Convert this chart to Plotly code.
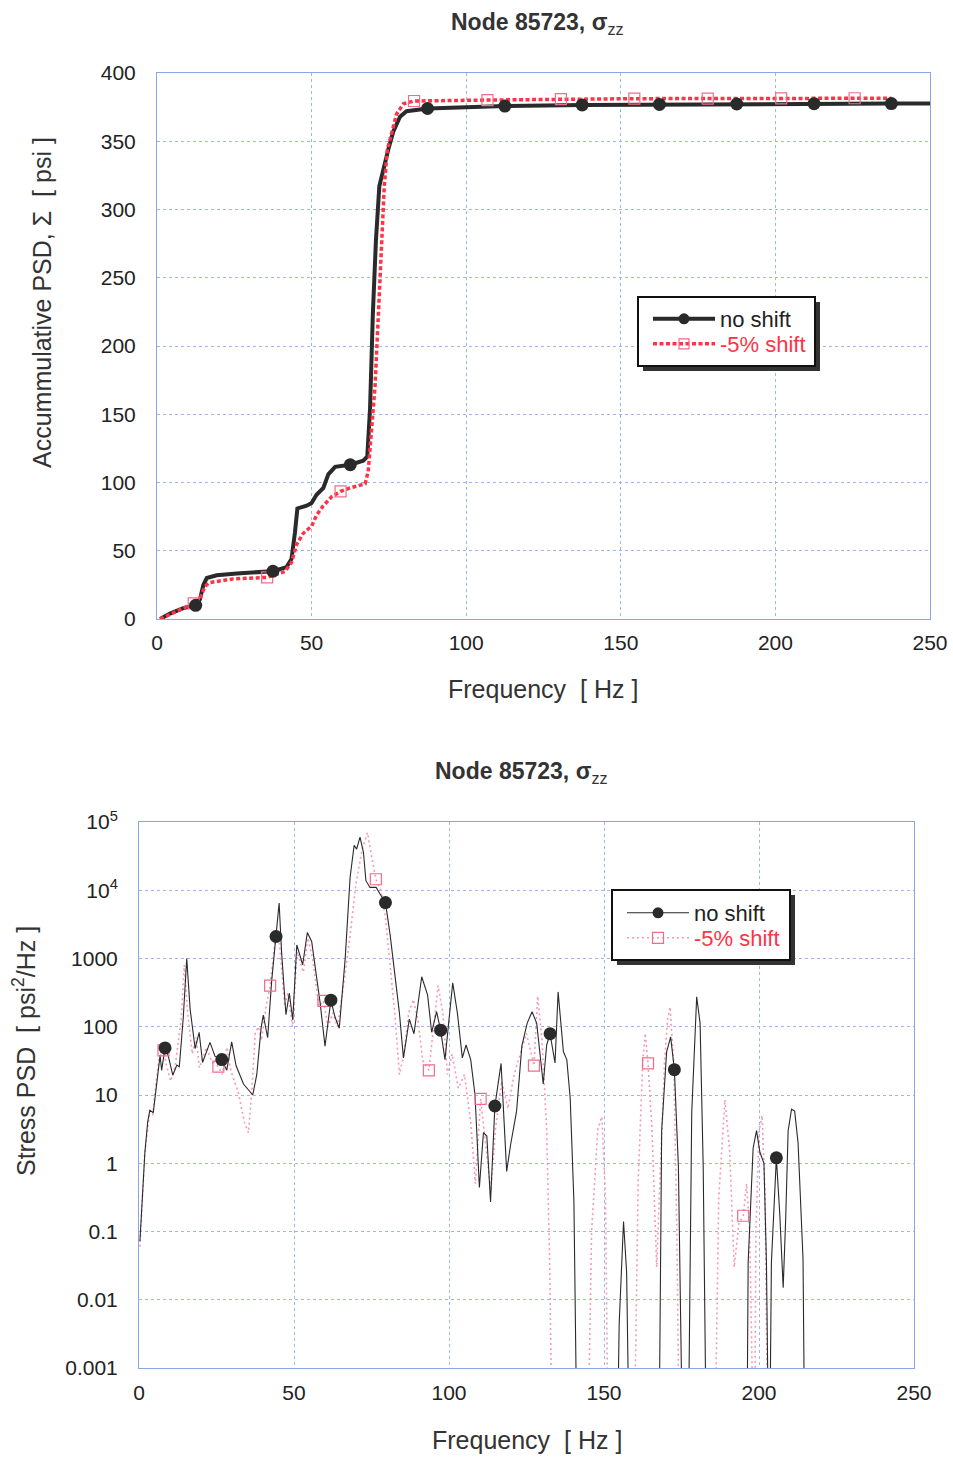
import plotly.graph_objects as go

# ---------------- data: top chart (accumulative PSD) ----------------
top_f_noshift = [1.0, 4.2, 8.5, 12.5, 13.9, 15.0, 16.1, 19.3, 25.8, 37.5, 41.9, 43.5, 44.6, 45.4,
                 48.4, 50.0, 51.6, 53.8, 55.4, 57.6, 62.5, 66.7, 68.0, 68.9, 69.8, 70.8, 71.9,
                 73.2, 74.8, 76.4, 78.6, 80.7, 84.0, 87.5, 100.0, 112.5, 137.5, 162.5, 187.5,
                 212.5, 237.5, 250.0]
top_v_noshift = [0, 4, 8, 10, 14.5, 25, 30, 32, 33.4, 35, 38, 44, 63, 81,
                 83, 85, 91, 96, 106, 111.5, 113, 116, 119, 154, 223, 277, 317,
                 330, 344, 357, 368, 372, 373.2, 374, 375, 375.8, 376.6, 377, 377.3,
                 377.5, 377.6, 377.6]
top_f_shift = [1.0, 4.2, 8.5, 11.875, 13.9, 15.5, 17.1, 24.7, 35.625, 41.4, 43.5, 45.2, 47.3,
               50.0, 51.6, 53.8, 56.5, 59.375, 62.4, 67.3, 68.3, 69.4, 70.5, 71.6, 72.7, 73.5,
               74.5, 75.9, 77.5, 79.7, 83.125, 106.875, 130.625, 154.375, 178.125, 201.875,
               225.625, 237.5]
top_v_shift = [0, 3.5, 8, 11.5, 15, 24, 26.7, 29.4, 30.5, 34.8, 41.4, 54.8, 62.8,
               68, 76, 83, 89.6, 93.5, 96, 99, 108, 143, 170, 223, 277, 317,
               344, 357, 370, 377.5, 379.5, 380.2, 380.8, 381.2, 381.3, 381.4,
               381.5, 381.5]
top_mk_f_noshift = [12.5, 37.5, 62.5, 87.5, 112.5, 137.5, 162.5, 187.5, 212.5, 237.5]
top_mk_v_noshift = [10, 35, 113, 374, 375.8, 376.6, 377, 377.3, 377.5, 377.6]
top_mk_f_shift = [11.875, 35.625, 59.375, 83.125, 106.875, 130.625, 154.375, 178.125, 201.875, 225.625]
top_mk_v_shift = [11.5, 30.5, 93.5, 379.5, 380.2, 380.8, 381.2, 381.3, 381.4, 381.5]

# ---------------- data: bottom chart (stress PSD) ----------------
psd_f_noshift = [0.3, 1.0, 1.9, 2.8, 3.5, 4.6, 5.7, 6.8, 7.3, 8.4, 9.4, 10.9, 12.2, 13.0, 14.3,
                 15.4, 16.5, 18.1, 19.4, 20.5, 22.9, 24.5, 26.7, 28.3, 29.9, 31.3, 33.7, 36.7,
                 38.0, 39.4, 40.1, 41.5, 42.8, 44.2, 45.2, 46.0, 47.4, 48.5, 49.6, 50.9, 52.8,
                 54.3, 55.7, 58.4, 60.0, 61.9, 63.2, 64.6, 66.5, 68.1, 69.4, 70.2, 71.3, 72.4,
                 73.2, 74.5, 76.5, 77.7, 79.5, 81.0, 82.6, 84.0, 85.3, 87.2, 88.7, 91.2, 93.1,
                 94.4, 96.0, 97.3, 98.7, 101.2, 102.7, 104.3, 105.5, 107.0, 108.4, 109.8, 111.1,
                 112.2, 113.4, 114.8, 116.8, 118.6, 119.9, 121.8, 123.5, 125.2, 126.8, 128.3,
                 130.4, 131.5, 132.6, 134.2, 135.2, 136.9, 138.0, 139.1, 140.3, 141.5, 154.0,
                 154.9, 156.3, 157.3, 158.4, 167.6, 168.6, 170.2, 171.5, 172.7, 174.0, 175.6,
                 177.0, 178.3, 179.9, 181.0, 182.0, 183.2, 196.0, 196.5, 198.1, 199.2, 200.3,
                 201.6, 202.4, 203.3, 204.0, 204.8, 205.6, 206.7, 207.8, 208.6, 209.4, 210.5,
                 211.5, 212.6, 214.2, 214.9, 250.0]
psd_v_noshift = [0.072, 0.3, 1.45, 4.0, 6.0, 5.5, 16, 38, 23, 49, 38, 19.5, 27.5, 26, 140,
                 1000, 180, 48, 83, 30, 59, 37, 33, 23, 60, 27, 14.5, 10,
                 20, 98, 148, 69, 470, 2100, 6500, 1230, 150, 310, 126, 1580, 810,
                 2400, 1780, 230, 52, 245, 140, 95, 980, 15500, 45700, 40000, 60000, 36000,
                 13800, 11000, 11000, 8900, 6600, 2240, 540, 160, 35, 129, 79, 540, 290,
                 83, 166, 89, 33, 440, 160, 35, 54, 33, 10, 0.44, 2.8,
                 2.5, 0.27, 6.9, 29, 0.76, 1.9, 5.8, 52, 112, 166, 112,
                 14.5, 54, 79, 29.5, 324, 43, 33, 8.9, 0.27, 1e-5, 1e-5,
                 0.0045, 0.14, 0.025, 1e-5, 1e-5, 3.0, 43, 71, 23.5, 0.9, 1e-5,
                 1e-5, 5.5, 275, 112, 0.9, 1e-5, 1e-5, 0.035, 1.66, 3.0, 1.45,
                 1.0, 0.035, 1e-5, 0.035, 0.27, 1.2, 0.18, 0.015, 0.15, 3.0, 6.2,
                 5.8, 2.0, 0.04, 1e-5, 1e-5]
psd_f_shift = [0.3, 1.8, 3.3, 4.4, 5.4, 6.5, 7.9, 8.8, 10.2, 11.6, 13.6, 14.6, 15.7, 17.2, 18.4,
               19.5, 21.8, 23.3, 25.6, 26.9, 28.4, 29.7, 32.0, 34.0, 35.3, 36.3, 37.5, 38.5,
               39.5, 41.0, 42.3, 44.0, 45.0, 46.0, 47.0, 48.0, 49.5, 51.0, 53.0, 54.5, 56.0,
               58.0, 59.5, 61.0, 62.5, 64.0, 66.0, 68.0, 70.0, 72.0, 73.7, 75.0, 76.4, 78.0,
               79.5, 81.0, 82.5, 84.0, 85.5, 87.0, 88.5, 90.0, 91.5, 93.5, 95.0, 96.5, 98.0,
               99.5, 101.0, 103.0, 105.0, 107.0, 108.5, 110.2, 112.0, 113.5, 115.0, 117.0,
               119.0, 121.0, 123.0, 125.0, 127.4, 128.6, 130.0, 131.5, 132.5, 133.5, 144.5,
               146.0, 148.0, 149.3, 150.5, 151.5, 159.5, 161.0, 162.5, 163.3, 164.2, 165.5,
               167.0, 168.0, 169.5, 170.5, 171.3, 172.5, 173.5, 174.5, 185.5, 187.0, 189.0,
               190.5, 192.0, 193.5, 194.9, 196.0, 197.0, 198.5, 199.0, 200.0, 201.0, 202.0,
               203.0, 237.5]
psd_v_shift = [0.06, 1.3, 5.0, 5.0, 14, 35, 45, 28, 16, 25, 126, 800, 160, 40, 70,
               25, 50, 32, 26, 20, 50, 22, 11, 4, 2.8, 10, 80, 100,
               63, 200, 400, 2000, 2500, 630, 200, 316, 100, 1260, 630, 2000, 1000,
               200, 240, 100, 160, 100, 400, 2000, 12600, 40000, 70000, 32000, 14500, 10000,
               4000, 800, 160, 20, 40, 160, 250, 126, 32, 23, 100, 400, 160,
               20, 40, 12.6, 20, 4, 0.5, 8.8, 1.6, 0.4, 3.2, 16,
               6.3, 20, 40, 80, 27, 280, 63, 3.2, 0.03, 1e-5, 1e-5,
               0.1, 3.2, 4.8, 0.3, 1e-5, 1e-5, 0.5, 30, 80, 29, 3,
               0.03, 0.5, 30, 126, 195, 30, 0.1, 1e-5, 1e-5, 0.3, 8.5,
               1.6, 0.03, 0.13, 0.17, 0.5, 0.1, 1e-5, 0.1, 3, 5, 0.3,
               1e-5, 1e-5]
psd_mk_f_noshift = [8.4, 26.7, 44.2, 61.9, 79.5, 97.3, 114.8, 132.6, 172.7, 205.6]
psd_mk_v_noshift = [49, 33, 2100, 245, 6600, 89, 6.9, 79, 23.5, 1.2]
psd_mk_f_shift = [7.9, 25.6, 42.3, 59.5, 76.4, 93.5, 110.2, 127.4, 164.2, 194.9]
psd_mk_v_shift = [45, 26, 400, 240, 14500, 23, 8.8, 27, 29, 0.17]

psd_tickvals = [1e-3, 1e-2, 1e-1, 1, 10, 100, 1000, 1e4, 1e5]
psd_ticktext = ["0.001", "0.01", "0.1", "1", "10", "100", "1000", "10<sup>4</sup>", "10<sup>5</sup>"]

names = ["no shift", "-5% shift"]

# ---------------- styling ----------------
W, H = 953, 1457
FONT = "Liberation Sans, Arial, sans-serif"
BLACK = "#2a2a2a"
RED = "#ff3347"
PINK = "#f59ab4"
PINKMK = "#f06c8c"
GRID = "#9db6ea"
AXLINE = "#86a6e6"


def px_x(p):
    return p / W


def px_y(p):
    return 1 - p / H


fig = go.Figure()

# top chart
fig.add_trace(go.Scatter(x=top_f_noshift, y=top_v_noshift, mode="lines", line=dict(color=BLACK, width=4),
                         showlegend=False, xaxis="x", yaxis="y"))
fig.add_trace(go.Scatter(x=top_f_shift, y=top_v_shift, mode="lines",
                         line=dict(color=RED, width=3.5, dash="4px,2.5px"),
                         showlegend=False, xaxis="x", yaxis="y"))
fig.add_trace(go.Scatter(x=top_mk_f_shift, y=top_mk_v_shift, mode="markers",
                         marker=dict(symbol="square-open", size=11, color=PINKMK, line=dict(width=1.2)),
                         showlegend=False, xaxis="x", yaxis="y"))
fig.add_trace(go.Scatter(x=top_mk_f_noshift, y=top_mk_v_noshift, mode="markers",
                         marker=dict(symbol="circle", size=13, color=BLACK),
                         showlegend=False, xaxis="x", yaxis="y"))
fig.add_trace(go.Scatter(x=[None], y=[None], mode="lines+markers", name=names[0],
                         line=dict(color=BLACK, width=4), marker=dict(symbol="circle", size=11, color=BLACK),
                         legend="legend", xaxis="x", yaxis="y"))
fig.add_trace(go.Scatter(x=[None], y=[None], mode="lines+markers",
                         name="<span style='color:%s'>%s</span>" % (RED, names[1]),
                         line=dict(color=RED, width=3.5, dash="4px,2.5px"),
                         marker=dict(symbol="square-open", size=10, color=PINKMK, line=dict(width=1.2)),
                         legend="legend3", xaxis="x", yaxis="y"))

# bottom chart
fig.add_trace(go.Scatter(x=psd_f_shift, y=psd_v_shift, mode="lines",
                         line=dict(color=PINK, width=1.6, dash="2px,3px"),
                         showlegend=False, xaxis="x2", yaxis="y2"))
fig.add_trace(go.Scatter(x=psd_f_noshift, y=psd_v_noshift, mode="lines",
                         line=dict(color=BLACK, width=1.1),
                         showlegend=False, xaxis="x2", yaxis="y2"))
fig.add_trace(go.Scatter(x=psd_mk_f_shift, y=psd_mk_v_shift, mode="markers",
                         marker=dict(symbol="square-open", size=11, color=PINKMK, line=dict(width=1.2)),
                         showlegend=False, xaxis="x2", yaxis="y2"))
fig.add_trace(go.Scatter(x=psd_mk_f_noshift, y=psd_mk_v_noshift, mode="markers",
                         marker=dict(symbol="circle", size=13, color=BLACK),
                         showlegend=False, xaxis="x2", yaxis="y2"))
fig.add_trace(go.Scatter(x=[None], y=[None], mode="lines+markers", name=names[0],
                         line=dict(color=BLACK, width=1.1), marker=dict(symbol="circle", size=11, color=BLACK),
                         legend="legend2", xaxis="x2", yaxis="y2"))
fig.add_trace(go.Scatter(x=[None], y=[None], mode="lines+markers",
                         name="<span style='color:%s'>%s</span>" % (RED, names[1]),
                         line=dict(color=PINK, width=1.6, dash="2px,3px"),
                         marker=dict(symbol="square-open", size=11, color=PINKMK, line=dict(width=1.2)),
                         legend="legend4", xaxis="x2", yaxis="y2"))

axis_common = dict(showgrid=True, gridcolor=GRID, griddash="dot", gridwidth=1,
                   showline=True, linecolor=AXLINE, linewidth=1, mirror=True, automargin=False,
                   zeroline=False, ticks="", tickfont=dict(family=FONT, size=21, color="#222"))


def leg(xp, yp):
    return dict(x=px_x(xp), y=px_y(yp), xanchor="left", yanchor="middle",
                bgcolor="rgba(0,0,0,0)", borderwidth=0, itemwidth=62,
                font=dict(family=FONT, size=22, color="#222"), tracegroupgap=0)


fig.update_layout(
    template="none",
    width=W, height=H,
    margin=dict(l=0, r=0, t=0, b=0, pad=0),
    paper_bgcolor="white", plot_bgcolor="white",
    font=dict(family=FONT, color="#222"),
    xaxis=dict(domain=[px_x(157), px_x(930)], anchor="y", range=[0, 250], dtick=50,
               ticklabelstandoff=5, **axis_common),
    yaxis=dict(domain=[px_y(619), px_y(73)], anchor="x", range=[0, 400], dtick=50,
               ticklabelstandoff=16, **axis_common),
    xaxis2=dict(domain=[px_x(139), px_x(914)], anchor="y2", range=[0, 250], dtick=50,
                ticklabelstandoff=6, **axis_common),
    yaxis2=dict(domain=[px_y(1368), px_y(822)], anchor="x2", type="log", range=[-3, 5],
                tickvals=psd_tickvals, ticktext=psd_ticktext, ticklabelstandoff=16, **axis_common),
    legend=leg(648, 319),
    legend3=leg(648, 344),
    legend2=leg(622, 913),
    legend4=leg(622, 938),
)

shapes = []
for (x0, y0, x1, y1) in [(638, 297, 815, 366), (612, 890, 790, 960)]:
    shapes.append(dict(type="rect", xref="paper", yref="paper", layer="above",
                       x0=px_x(x0 + 5), x1=px_x(x1 + 5), y0=px_y(y1 + 5), y1=px_y(y0 + 5),
                       fillcolor="#333333", line=dict(width=0)))
    shapes.append(dict(type="rect", xref="paper", yref="paper", layer="above",
                       x0=px_x(x0), x1=px_x(x1), y0=px_y(y1), y1=px_y(y0),
                       fillcolor="white", line=dict(color="#111", width=2)))
fig.update_layout(shapes=shapes)

title_txt = "<b>Node 85723, σ</b><sub>zz</sub>"
annotations = [
    dict(text=title_txt, x=px_x(537), y=px_y(24), xref="paper", yref="paper", showarrow=False,
         xanchor="center", yanchor="middle", font=dict(family=FONT, size=23, color="#333")),
    dict(text=title_txt, x=px_x(521), y=px_y(772), xref="paper", yref="paper", showarrow=False,
         xanchor="center", yanchor="middle", font=dict(family=FONT, size=23, color="#333")),
    dict(text="Frequency  [ Hz ]", x=px_x(543), y=px_y(689), xref="paper", yref="paper", showarrow=False,
         xanchor="center", yanchor="middle", font=dict(family=FONT, size=25, color="#333")),
    dict(text="Frequency  [ Hz ]", x=px_x(527), y=px_y(1440), xref="paper", yref="paper", showarrow=False,
         xanchor="center", yanchor="middle", font=dict(family=FONT, size=25, color="#333")),
    dict(text="Accummulative PSD, Σ  [ psi ]", x=px_x(42), y=px_y(303), xref="paper", yref="paper",
         showarrow=False, textangle=-90, xanchor="center", yanchor="middle",
         font=dict(family=FONT, size=25, color="#333")),
    dict(text="Stress PSD  [ psi<sup>2</sup>/Hz ]", x=px_x(24), y=px_y(1051), xref="paper", yref="paper",
         showarrow=False, textangle=-90, xanchor="center", yanchor="middle",
         font=dict(family=FONT, size=25, color="#333")),
]
fig.update_layout(annotations=annotations)

fig.write_html("out.html")
